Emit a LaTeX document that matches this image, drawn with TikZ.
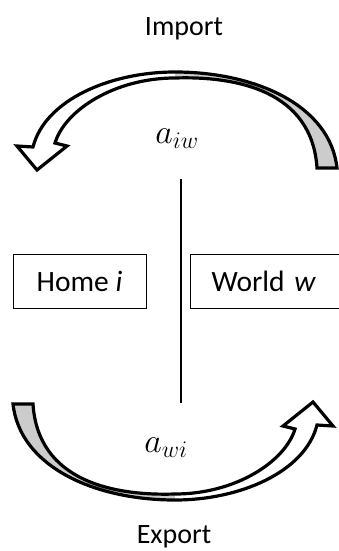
\RequirePackage{fix-cm}
\documentclass[tikz,border=0pt]{standalone}
\usepackage{fontspec}
\setmainfont{Carlito}
\usetikzlibrary{positioning}

\tikzset{
    tradearrow/.pic={
        % back face (tail)
        \fill[black!20] (0,-208) .. controls (60,-210) and (137,-196) .. (142,-118) -- (162,-118) .. controls (155,-181) and (80,-214) .. (0,-214) -- cycle;
        % front face (head)
        \fill[white] (0,-214) .. controls (-65,-214) and (-130,-186) .. (-142,-139) -- (-158,-140) -- (-138,-116) -- (-108,-140) -- (-120,-143) .. controls (-110,-176) and (-60,-208) .. (0,-208) -- cycle;
        % outline
        \draw[line width=3.2pt, line join=miter] (142,-118) -- (162,-118) .. controls (155,-181) and (80,-214) .. (0,-214) .. controls (-65,-214) and (-130,-186) .. (-142,-139) -- (-158,-140) -- (-138,-116) -- (-108,-140) -- (-120,-143) .. controls (-110,-176) and (-60,-208) .. (0,-208) .. controls (60,-210) and (137,-196) .. (142,-118) -- cycle;
    }
}

\begin{document}
\begin{tikzpicture}[
    x=1pt, y=-1pt,
    region/.style={rectangle, draw, line width=1pt, minimum height=54pt, font=\fontsize{29.5}{34}\selectfont},
    flow/.style={font=\fontsize{28}{34}\selectfont, inner sep=0pt},
    coeff/.style={font=\fontsize{34}{40}\selectfont, inner sep=0pt},
    divider/.style={line width=1.3pt}
]
\clip (0,0) rectangle (339,551);

% Regions
\node[region, minimum width=133pt] (home) at (79.5,281) {Home \textit{i}};
\node[region, anchor=west, text width=150pt, align=left, inner xsep=21pt] (world) at (190,281) {World \textit{w}};

% Flows
\pic at (175,286) {tradearrow};
\pic[rotate=180] at (175,286) {tradearrow};

\node[flow, anchor=base] (import) at (184,36) {Import};
\node[flow, anchor=base] (export) at (174,543) {Export};

% Coefficients
\node[coeff, anchor=base] (aiw) at (177,143) {$a_{iw}$};
\node[coeff, anchor=base] (awi) at (166,452) {$a_{wi}$};

% Divider
\coordinate (divtop) at (181,179);
\coordinate (divbot) at (181,403);
\draw[divider] (divtop) -- (divbot);

\end{tikzpicture}
\end{document}
